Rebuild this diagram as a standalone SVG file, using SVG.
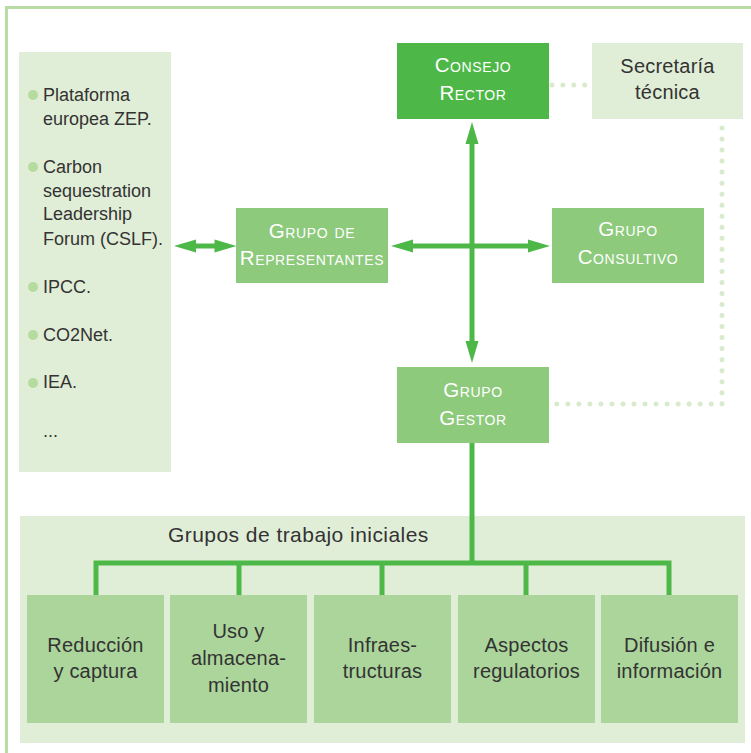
<svg xmlns="http://www.w3.org/2000/svg" width="751" height="753" viewBox="0 0 751 753">
<defs>
<style>
text{font-family:"Liberation Sans",Arial,Helvetica,sans-serif;}
.panel{fill:#e1eed7;}
.dark{fill:#4db848;}
.mid{fill:#8dca7c;}
.light{fill:#abd59b;}
.wt{fill:#ffffff;font-size:20.5px;font-variant:small-caps;text-anchor:middle;letter-spacing:0.6px;}
.gt{fill:#333333;font-size:20px;text-anchor:middle;letter-spacing:0.2px;}
.lt{fill:#333333;font-size:18px;}
.bul{fill:#b5db9f;}
.conn{fill:none;stroke:#4db848;stroke-width:5;}
.dots{fill:none;stroke:#d9ebcc;stroke-width:5;stroke-linecap:round;}
</style>
<marker id="ah" markerUnits="userSpaceOnUse" viewBox="-5 -7 24 14" markerWidth="24" markerHeight="14" refX="0" refY="0" orient="auto-start-reverse" overflow="visible">
<path d="M-4,-6.5 L18,0 L-4,6.5 Z" fill="#4db848"/>
</marker>
</defs>

<path d="M6.5,753 V7.5 H751" fill="none" stroke="#b9dca5" stroke-width="3"/>

<g id="lista">
<rect class="panel" x="19" y="52" width="152" height="420"/>
<circle class="bul" cx="33" cy="95" r="5"/>
<text class="lt" x="43" y="101">Plataforma</text>
<text class="lt" x="43" y="125">europea ZEP.</text>
<circle class="bul" cx="33" cy="167" r="5"/>
<text class="lt" x="43" y="173">Carbon</text>
<text class="lt" x="43" y="197">sequestration</text>
<text class="lt" x="43" y="220">Leadership</text>
<text class="lt" x="43" y="245">Forum (CSLF).</text>
<circle class="bul" cx="33" cy="287" r="5"/>
<text class="lt" x="43" y="293">IPCC.</text>
<circle class="bul" cx="33" cy="335" r="5"/>
<text class="lt" x="43" y="341">CO2Net.</text>
<circle class="bul" cx="33" cy="383" r="5"/>
<text class="lt" x="43" y="388">IEA.</text>
<text class="lt" x="43" y="437">...</text>
</g>

<g id="trabajo">
<rect class="panel" x="20" y="516" width="725" height="227"/>
<text x="168" y="542" fill="#333333" font-size="21" letter-spacing="0.45">Grupos de trabajo iniciales</text>
</g>

<g id="connectors">
<line class="conn" x1="472" y1="140" x2="472" y2="345" marker-start="url(#ah)" marker-end="url(#ah)"/>
<line class="conn" x1="409" y1="246" x2="532" y2="246" marker-start="url(#ah)" marker-end="url(#ah)"/>
<line class="conn" x1="192" y1="246" x2="218.5" y2="246" marker-start="url(#ah)" marker-end="url(#ah)"/>
<path class="conn" d="M472,443 V563"/>
<path class="conn" d="M96,595 V563 H669 V595"/>
<path class="conn" d="M239,563 V595 M382,563 V595 M526,563 V595"/>
<path class="dots" d="M552,85 H585" stroke-dasharray="0 10.9"/>
<path class="dots" d="M722,128 V404 H555" stroke-dasharray="0 11.03"/>
</g>

<g id="consejo">
<rect class="dark" x="397" y="43" width="152" height="76"/>
<text class="wt" x="473" y="72">Consejo</text>
<text class="wt" x="473" y="100">Rector</text>
</g>

<g id="secretaria">
<rect class="panel" x="592" y="43" width="151" height="76"/>
<text class="gt" x="667.5" y="73">Secretaría</text>
<text class="gt" x="667.5" y="99">técnica</text>
</g>

<g id="representantes">
<rect class="mid" x="236" y="208" width="152" height="75"/>
<text class="wt" x="312" y="238">Grupo de</text>
<text class="wt" x="312" y="265" letter-spacing="0.1">Representantes</text>
</g>

<g id="consultivo">
<rect class="mid" x="552" y="208" width="152" height="75"/>
<text class="wt" x="628" y="236">Grupo</text>
<text class="wt" x="628" y="264">Consultivo</text>
</g>

<g id="gestor">
<rect class="mid" x="397" y="367" width="152" height="76"/>
<text class="wt" x="473" y="397">Grupo</text>
<text class="wt" x="473" y="425">Gestor</text>
</g>

<g id="reduccion">
<rect class="light" x="27" y="595" width="137" height="128"/>
<text class="gt" x="95.5" y="652">Reducción</text>
<text class="gt" x="95.5" y="678">y captura</text>
</g>

<g id="uso">
<rect class="light" x="170" y="595" width="137" height="128"/>
<text class="gt" x="238.5" y="638">Uso y</text>
<text class="gt" x="238.5" y="665">almacena-</text>
<text class="gt" x="238.5" y="692">miento</text>
</g>

<g id="infraestructuras">
<rect class="light" x="314" y="595" width="137" height="128"/>
<text class="gt" x="382.5" y="652">Infraes-</text>
<text class="gt" x="382.5" y="678">tructuras</text>
</g>

<g id="aspectos">
<rect class="light" x="458" y="595" width="137" height="128"/>
<text class="gt" x="526.5" y="652">Aspectos</text>
<text class="gt" x="526.5" y="678">regulatorios</text>
</g>

<g id="difusion">
<rect class="light" x="601" y="595" width="137" height="128"/>
<text class="gt" x="669.5" y="652">Difusión e</text>
<text class="gt" x="669.5" y="678">información</text>
</g>
</svg>
